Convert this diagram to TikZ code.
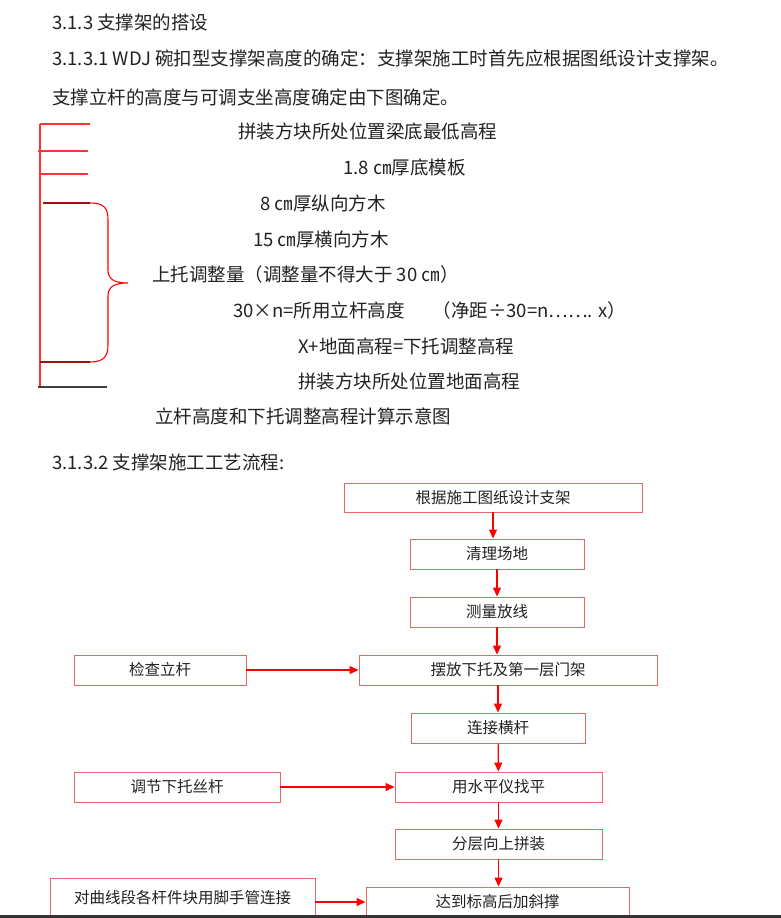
\documentclass[tikz,border=0pt]{standalone}
\usepackage{fontspec}
\setmainfont{Noto Sans CJK SC}
\usetikzlibrary{arrows.meta}
\definecolor{boxred}{HTML}{E06A6A}
\definecolor{darkred}{HTML}{A01010}
\definecolor{txt}{HTML}{222222}

\begin{document}
\begin{tikzpicture}[x = 1pt, y = -1pt,
		every node/.style = {text = txt, inner sep = 0pt},
		line/.style = {anchor = west, font = \fontsize{18.5}{20}\selectfont},
		box/.style = {draw = boxred, line width = 0.9pt, minimum height = 30pt, font = \fontsize{15.5}{18}\selectfont},
		arr/.style = {draw = red, line width = 1.2pt, -{Triangle[length = 9pt, width = 8pt]}}]
		\fill[white] (0, 0) rectangle (781, 918);
		\useasboundingbox (0, 0) rectangle (781, 918);
		\node[line] (h1) at (52, 22) {3.1.3 支撑架的搭设};
		\node[line] (h2) at (52, 58) {3.1.3.1 WDJ 碗扣型支撑架高度的确定：支撑架施工时首先应根据图纸设计支撑架。};
		\node[line] (h3) at (52, 97) {支撑立杆的高度与可调支坐高度确定由下图确定。};
		\draw[red!80, line width = 1.3pt] (40, 124) -- (40, 387);
		\draw[red!80, line width = 1.1pt] (40, 124) -- (90, 124) (38, 151) -- (88, 151) (40, 174) -- (88, 174);
		\draw[darkred, line width = 1.1pt] (43, 203) -- (90, 203) (40, 362) -- (90, 362);
		\draw[black!75, line width = 1.4pt] (38, 387) -- (107, 387);
		\draw[red, line width = 1.1pt] (90, 203) .. controls (104, 203) and (108, 208) .. (108, 220) -- (108, 270) .. controls (108, 279) and (114, 283) .. (128, 283) .. controls (114, 283) and (108, 287) .. (108, 296) -- (108, 345) .. controls (108, 356) and (104, 362) .. (90, 362);
		\node[line] (l1) at (238, 131) {拼装方块所处位置梁底最低高程};
		\node[line] (l2) at (343, 167) {1.8 ㎝厚底模板};
		\node[line] (l3) at (260, 203) {8 ㎝厚纵向方木};
		\node[line] (l4) at (253, 239) {15 ㎝厚横向方木};
		\node[line] (l5) at (152, 274) {上托调整量（调整量不得大于 30 ㎝）};
		\node[line] (l6) at (233, 310) {30×n=所用立杆高度\hspace{1.5em}（净距÷30=n……. x）};
		\node[line] (l7) at (298, 346) {X+地面高程=下托调整高程};
		\node[line] (l8) at (298, 381) {拼装方块所处位置地面高程};
		\node[line] (l9) at (155, 416) {立杆高度和下托调整高程计算示意图};
		\node[line] (h4) at (52, 462) {3.1.3.2 支撑架施工工艺流程:};
		\node[box, minimum width = 298pt, minimum height = 29pt] (b1) at (493, 497.5) {根据施工图纸设计支架};
		\node[box, minimum width = 174pt] (b2) at (497, 554) {清理场地};
		\node[box, minimum width = 174pt] (b3) at (497, 612) {测量放线};
		\node[box, minimum width = 298pt] (b4) at (508, 670) {摆放下托及第一层门架};
		\node[box, minimum width = 174pt] (b5) at (498, 728) {连接横杆};
		\node[box, minimum width = 207pt] (b6) at (498.5, 787) {用水平仪找平};
		\node[box, minimum width = 207pt] (b7) at (498.5, 844) {分层向上拼装};
		\node[box, minimum width = 263pt] (b8) at (497.5, 902) {达到标高后加斜撑};
		\node[box, minimum width = 172pt] (s1) at (160, 670) {检查立杆};
		\node[box, minimum width = 206pt] (s2) at (177, 787) {调节下托丝杆};
		\node[box, minimum width = 265pt, minimum height = 40pt] (s3) at (182.5, 898) {对曲线段各杆件块用脚手管连接};
		\draw[arr] (b1.south) -- (b1.south |- b2.north);
		\draw[arr] (b2) -- (b3);
		\draw[arr] (b3.south) -- (b3.south |- b4.north);
		\draw[arr] (b5.north |- b4.south) -- (b5.north);
		\draw[arr] (b5) -- (b6);
		\draw[arr] (b6) -- (b7);
		\draw[arr] (b7.south) -- (b7.south |- b8.north);
		\draw[arr] (s1) -- (b4);
		\draw[arr] (s2) -- (b6);
		\draw[arr] (s3.east |- b8.west) -- (b8.west);
		\fill[black!80] (0, 915) rectangle (781, 918);
	\end{tikzpicture}
\end{document}
